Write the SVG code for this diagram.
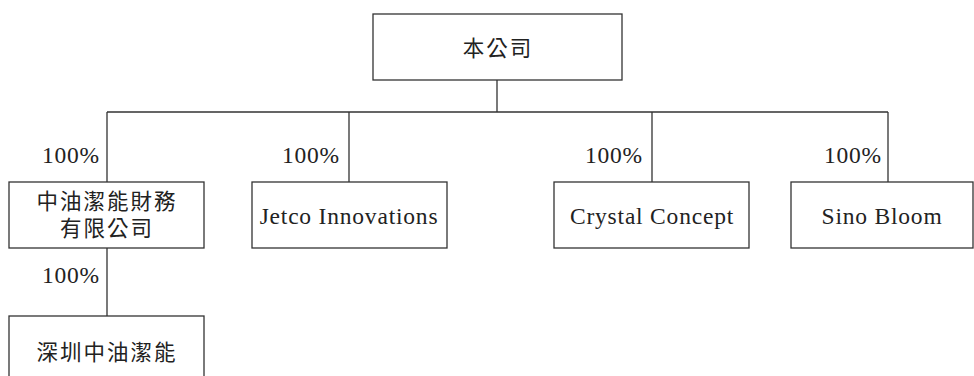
<svg xmlns="http://www.w3.org/2000/svg" width="974" height="376" viewBox="0 0 974 376">
<style>
.box{fill:#fff;stroke:#333;stroke-width:1.3}
.ln{fill:none;stroke:#333;stroke-width:1.3}
.en{font-family:"Liberation Serif","Times New Roman",serif;font-size:23.5px;fill:#222;letter-spacing:0.8px}
.zh{font-family:"Liberation Serif","Noto Sans CJK TC",sans-serif;font-size:21.5px;fill:#222;letter-spacing:2px}
.pct{font-family:"Liberation Serif","Times New Roman",serif;font-size:23.5px;fill:#222;text-anchor:end;letter-spacing:0.8px}
</style>
<rect width="974" height="376" fill="#fff"/>
<g id="connectors">
<path class="ln" d="M497,80 V112 M107,112 H888 M107,112 V182 M349,112 V182 M652,112 V182 M888,112 V182 M107,248 V316"/>
<text class="pct" x="100" y="163">100%</text>
<text class="pct" x="340" y="163">100%</text>
<text class="pct" x="643" y="163">100%</text>
<text class="pct" x="882" y="163">100%</text>
<text class="pct" x="100" y="283">100%</text>
</g>
<g id="parent">
<rect class="box" x="373" y="14" width="249" height="66"/>
<text class="zh" x="498" y="56" text-anchor="middle">本公司</text>
</g>
<g id="finance">
<rect class="box" x="9" y="182" width="195" height="66"/>
<text class="zh" x="107" y="209" text-anchor="middle">中油潔能財務</text>
<text class="zh" x="107" y="236" text-anchor="middle">有限公司</text>
</g>
<g id="jetco">
<rect class="box" x="252" y="182" width="195" height="66"/>
<text class="en" x="349" y="224" text-anchor="middle">Jetco Innovations</text>
</g>
<g id="crystal">
<rect class="box" x="554" y="182" width="195" height="66"/>
<text class="en" x="652" y="224" text-anchor="middle">Crystal Concept</text>
</g>
<g id="sino">
<rect class="box" x="791" y="182" width="182" height="66"/>
<text class="en" x="882" y="224" text-anchor="middle">Sino Bloom</text>
</g>
<g id="shenzhen">
<rect class="box" x="9" y="316" width="195" height="80"/>
<text class="zh" x="107" y="360" text-anchor="middle">深圳中油潔能</text>
</g>
</svg>
